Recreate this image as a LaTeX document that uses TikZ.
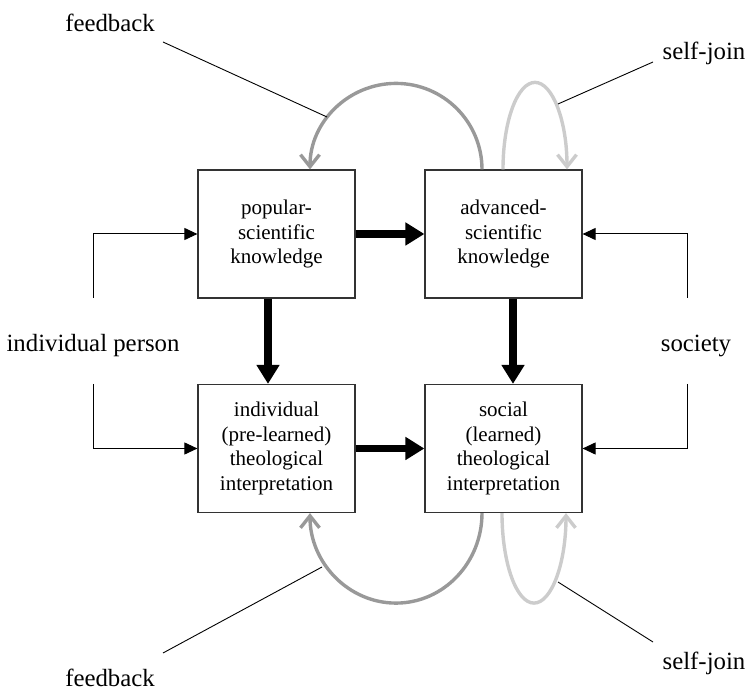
\documentclass[tikz,border=0pt]{standalone}
\usepackage{fontspec}
\setmainfont{Liberation Serif}
\usetikzlibrary{arrows.meta}

\begin{document}
\begin{tikzpicture}[x=0.5pt,y=-0.5pt,
    box/.style={draw=black!80,line width=0.6pt,minimum width=78.5pt,minimum height=64pt,
        align=center,inner sep=2pt,font=\fontsize{10.5}{12.2}\selectfont},
    lbl/.style={font=\fontsize{12.4}{14}\selectfont,inner sep=0pt},
    flow/.style={line width=3.6pt,-{Triangle[length=9.5pt,width=11pt]}},
    side/.style={line width=0.5pt,-{Triangle[length=6.5pt,width=6pt]}},
    fb/.style={line width=1.7pt,draw=black!40,-{Straight Barb[length=6pt,width=9.5pt]}},
    sj/.style={fb,draw=black!20},
    lead/.style={line width=0.45pt}]
    \useasboundingbox (0,0) rectangle (750,689);

    % the four boxes
    \node[box] (pop) at (276.5,234) {popular-\\scientific\\knowledge};
    \node[box] (adv) at (503.5,234) {advanced-\\scientific\\knowledge};
    \node[box] (ind) at (276.5,448.5) {individual\\(pre-learned)\\theological\\interpretation};
    \node[box] (soc) at (503.5,448.5) {social\\(learned)\\theological\\interpretation};

    % main flow
    \draw[flow] (pop) -- (adv);
    \draw[flow] (ind) -- (soc);
    \draw[flow] ([xshift=-4.25pt]pop.south) -- ([xshift=-4.25pt]ind.north);
    \draw[flow] ([xshift=4.75pt]adv.south) -- ([xshift=4.75pt]soc.north);

    % left: individual person
    \node[lbl] (person) at (93,346) {individual person};
    \coordinate (pl1) at (93,298);
    \coordinate (pl2) at (93,384);
    \draw[side] (pl1) |- (pop.west);
    \draw[side] (pl2) |- (ind.west);

    % right: society
    \node[lbl] (society) at (696,346) {society};
    \coordinate (pr1) at (687,298);
    \coordinate (pr2) at (687,384);
    \draw[side] (pr1) |- (adv.east);
    \draw[side] (pr2) |- (soc.east);

    % loops on top
    \draw[fb] ([xshift=-10.75pt]adv.north) arc[start angle=0,end angle=180,radius=43pt];
    \draw[sj] ([xshift=-0.25pt]adv.north) arc[start angle=180,end angle=0,x radius=16pt,y radius=43.5pt];

    % loops at the bottom
    \draw[fb] ([xshift=-10.75pt]soc.south) arc[start angle=0,end angle=-180,x radius=43pt,y radius=45pt];
    \draw[sj] ([xshift=-0.75pt]soc.south) arc[start angle=180,end angle=360,x radius=16pt,y radius=45pt];

    % labels with leader lines
    \node[lbl] (fbtop) at (110,23) {feedback};
    \node[lbl] (sjtop) at (704,53) {self-join};
    \node[lbl] (fbbot) at (110,678) {feedback};
    \node[lbl] (sjbot) at (704,663) {self-join};

    \coordinate (a1) at (163,42);  \coordinate (b1) at (327,117);
    \coordinate (a2) at (653,62);  \coordinate (b2) at (558,104);
    \coordinate (a3) at (163,653); \coordinate (b3) at (322,567);
    \coordinate (a4) at (653,642); \coordinate (b4) at (558,582);
    \draw[lead] (a1) -- (b1);
    \draw[lead] (a2) -- (b2);
    \draw[lead] (a3) -- (b3);
    \draw[lead] (a4) -- (b4);
\end{tikzpicture}
\end{document}
